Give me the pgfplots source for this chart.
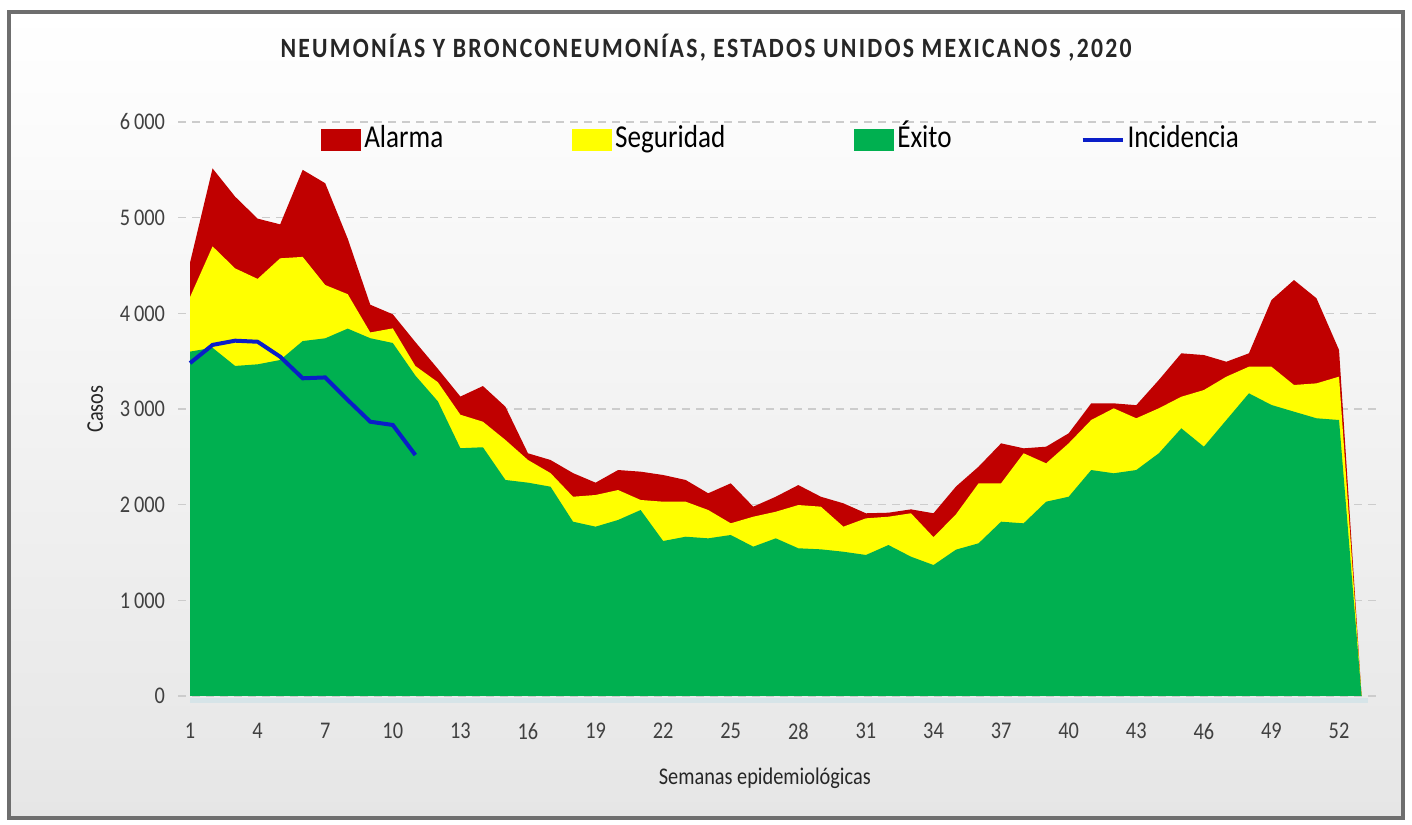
\documentclass[border=0pt]{standalone}
\usepackage{fontspec}
\setmainfont{Carlito}[FakeStretch=0.85]
\usepackage{pgfplots}
\usepackage{pgfplotstable}
\pgfplotsset{compat=1.18}
\definecolor{alarma}{RGB}{192,0,0}
\definecolor{seguridad}{RGB}{255,255,0}
\definecolor{exito}{RGB}{0,176,80}
\definecolor{incid}{RGB}{10,30,200}
\definecolor{framec}{RGB}{110,110,110}
\definecolor{bgbot}{RGB}{230,230,230}
\definecolor{axc}{RGB}{214,228,232}
\definecolor{txt}{RGB}{64,64,64}

\pgfplotstableread{
w a s e
1 4530 4170 3600
2 5515 4700 3640
3 5220 4470 3450
4 4990 4360 3467
5 4930 4575 3512
6 5500 4590 3710
7 5360 4296 3739
8 4780 4200 3840
9 4090 3800 3740
10 3990 3843 3690
11 3700 3450 3350
12 3420 3280 3080
13 3130 2940 2590
14 3240 2867 2600
15 3024 2676 2258
16 2537 2467 2230
17 2467 2330 2188
18 2330 2083 1822
19 2230 2101 1770
20 2362 2153 1840
21 2345 2049 1944
22 2310 2031 1620
23 2258 2031 1665
24 2119 1944 1648
25 2223 1805 1683
26 1979 1874 1561
27 2083 1926 1648
28 2205 1996 1544
29 2083 1979 1533
30 2014 1770 1508
31 1910 1857 1474
32 1916 1874 1578
33 1951 1910 1456
34 1910 1660 1369
35 2190 1900 1530
36 2397 2223 1596
37 2641 2223 1822
38 2589 2537 1805
39 2606 2432 2031
40 2746 2641 2083
41 3059 2885 2362
42 3059 3007 2328
43 3040 2903 2362
44 3303 3007 2537
45 3582 3128 2798
46 3564 3198 2606
47 3494 3338 2885
48 3582 3442 3164
49 4139 3442 3042
50 4348 3251 2972
51 4157 3268 2903
52 3617 3338 2885
53 0 0 0
}\datos

\pgfplotstableread{
w i
1 3480
2 3670
3 3714
4 3703
5 3547
6 3321
7 3330
8 3094
9 2867
10 2833
11 2519
}\incidencia

\begin{document}
\begin{tikzpicture}
\fill[white] (0,0) rectangle (706bp,412.5bp);
\shade[top color=white, bottom color=bgbot] (4.5bp,3.5bp) rectangle (701.5bp,406.5bp);
\draw[framec, line width=2bp] (4.5bp,3.5bp) rectangle (701.5bp,406.5bp);
\node[font=\fontsize{14}{16}\selectfont\bfseries, text=black!85] at (353bp,388.5bp)
  {\addfontfeature{LetterSpace=8}NEUMONÍAS Y BRONCONEUMONÍAS, ESTADOS UNIDOS MEXICANOS ,2020};
\begin{axis}[
  at={(89bp,64.5bp)}, anchor=south west,
  scale only axis, width=600bp, height=287bp,
  xmin=0.466, xmax=53.73, ymin=0, ymax=6000,
  xtick={1,4,...,52},
  ytick={0,1000,2000,3000,4000,5000,6000},
  yticklabels={0,1\,000,2\,000,3\,000,4\,000,5\,000,6\,000},
  /pgf/number format/assume math mode=true,
  axis x line*=bottom, axis y line*=left,
  y axis line style={draw=none},
  x axis line style={draw=axc, line width=2.5bp, -, yshift=-2bp, shorten <=6bp, shorten >=5bp},
  major tick length=0pt,
  ymajorgrids,
  major grid style={dash pattern=on 4bp off 3bp, draw=gray!40, line width=0.7bp},
  tick label style={font=\fontsize{12}{14}\selectfont, text=txt},
  xticklabel style={yshift=-10bp},
  yticklabel style={xshift=-3bp},
  xlabel={Semanas epidemiológicas},
  ylabel={Casos},
  label style={font=\fontsize{12}{14}\selectfont, text=black!85},
  xlabel style={at={(axis description cs:0.489,-0.143)}, anchor=center},
  ylabel style={at={(axis description cs:-0.069,0.5)}, anchor=center},
  legend columns=4,
  legend style={at={(axis description cs:0.503,0.968)}, anchor=center, draw=none, fill=none,
    font=\fontsize{16}{18}\selectfont,
    nodes={text height=11bp, text depth=3.5bp, inner xsep=1.5bp},
    /tikz/every even column/.append style={column sep=63bp}},
]
\addplot[fill=alarma, draw=none,
  legend image code/.code={\fill[alarma] (0bp,-5.5bp) rectangle (20bp,5.5bp);}]
  table[x=w,y=a]{\datos} \closedcycle;
\addlegendentry{Alarma}
\addplot[fill=seguridad, draw=none,
  legend image code/.code={\fill[seguridad] (0bp,-5.5bp) rectangle (20bp,5.5bp);}]
  table[x=w,y=s]{\datos} \closedcycle;
\addlegendentry{Seguridad}
\addplot[fill=exito, draw=none,
  legend image code/.code={\fill[exito] (0bp,-5.5bp) rectangle (20bp,5.5bp);}]
  table[x=w,y=e]{\datos} \closedcycle;
\addlegendentry{Éxito}
\addplot[incid, line width=2bp, mark=none,
  legend image code/.code={\draw[incid, line width=2bp] (0bp,0bp) -- (20bp,0bp);}]
  table[x=w,y=i]{\incidencia};
\addlegendentry{Incidencia}
\end{axis}
\end{tikzpicture}
\end{document}
